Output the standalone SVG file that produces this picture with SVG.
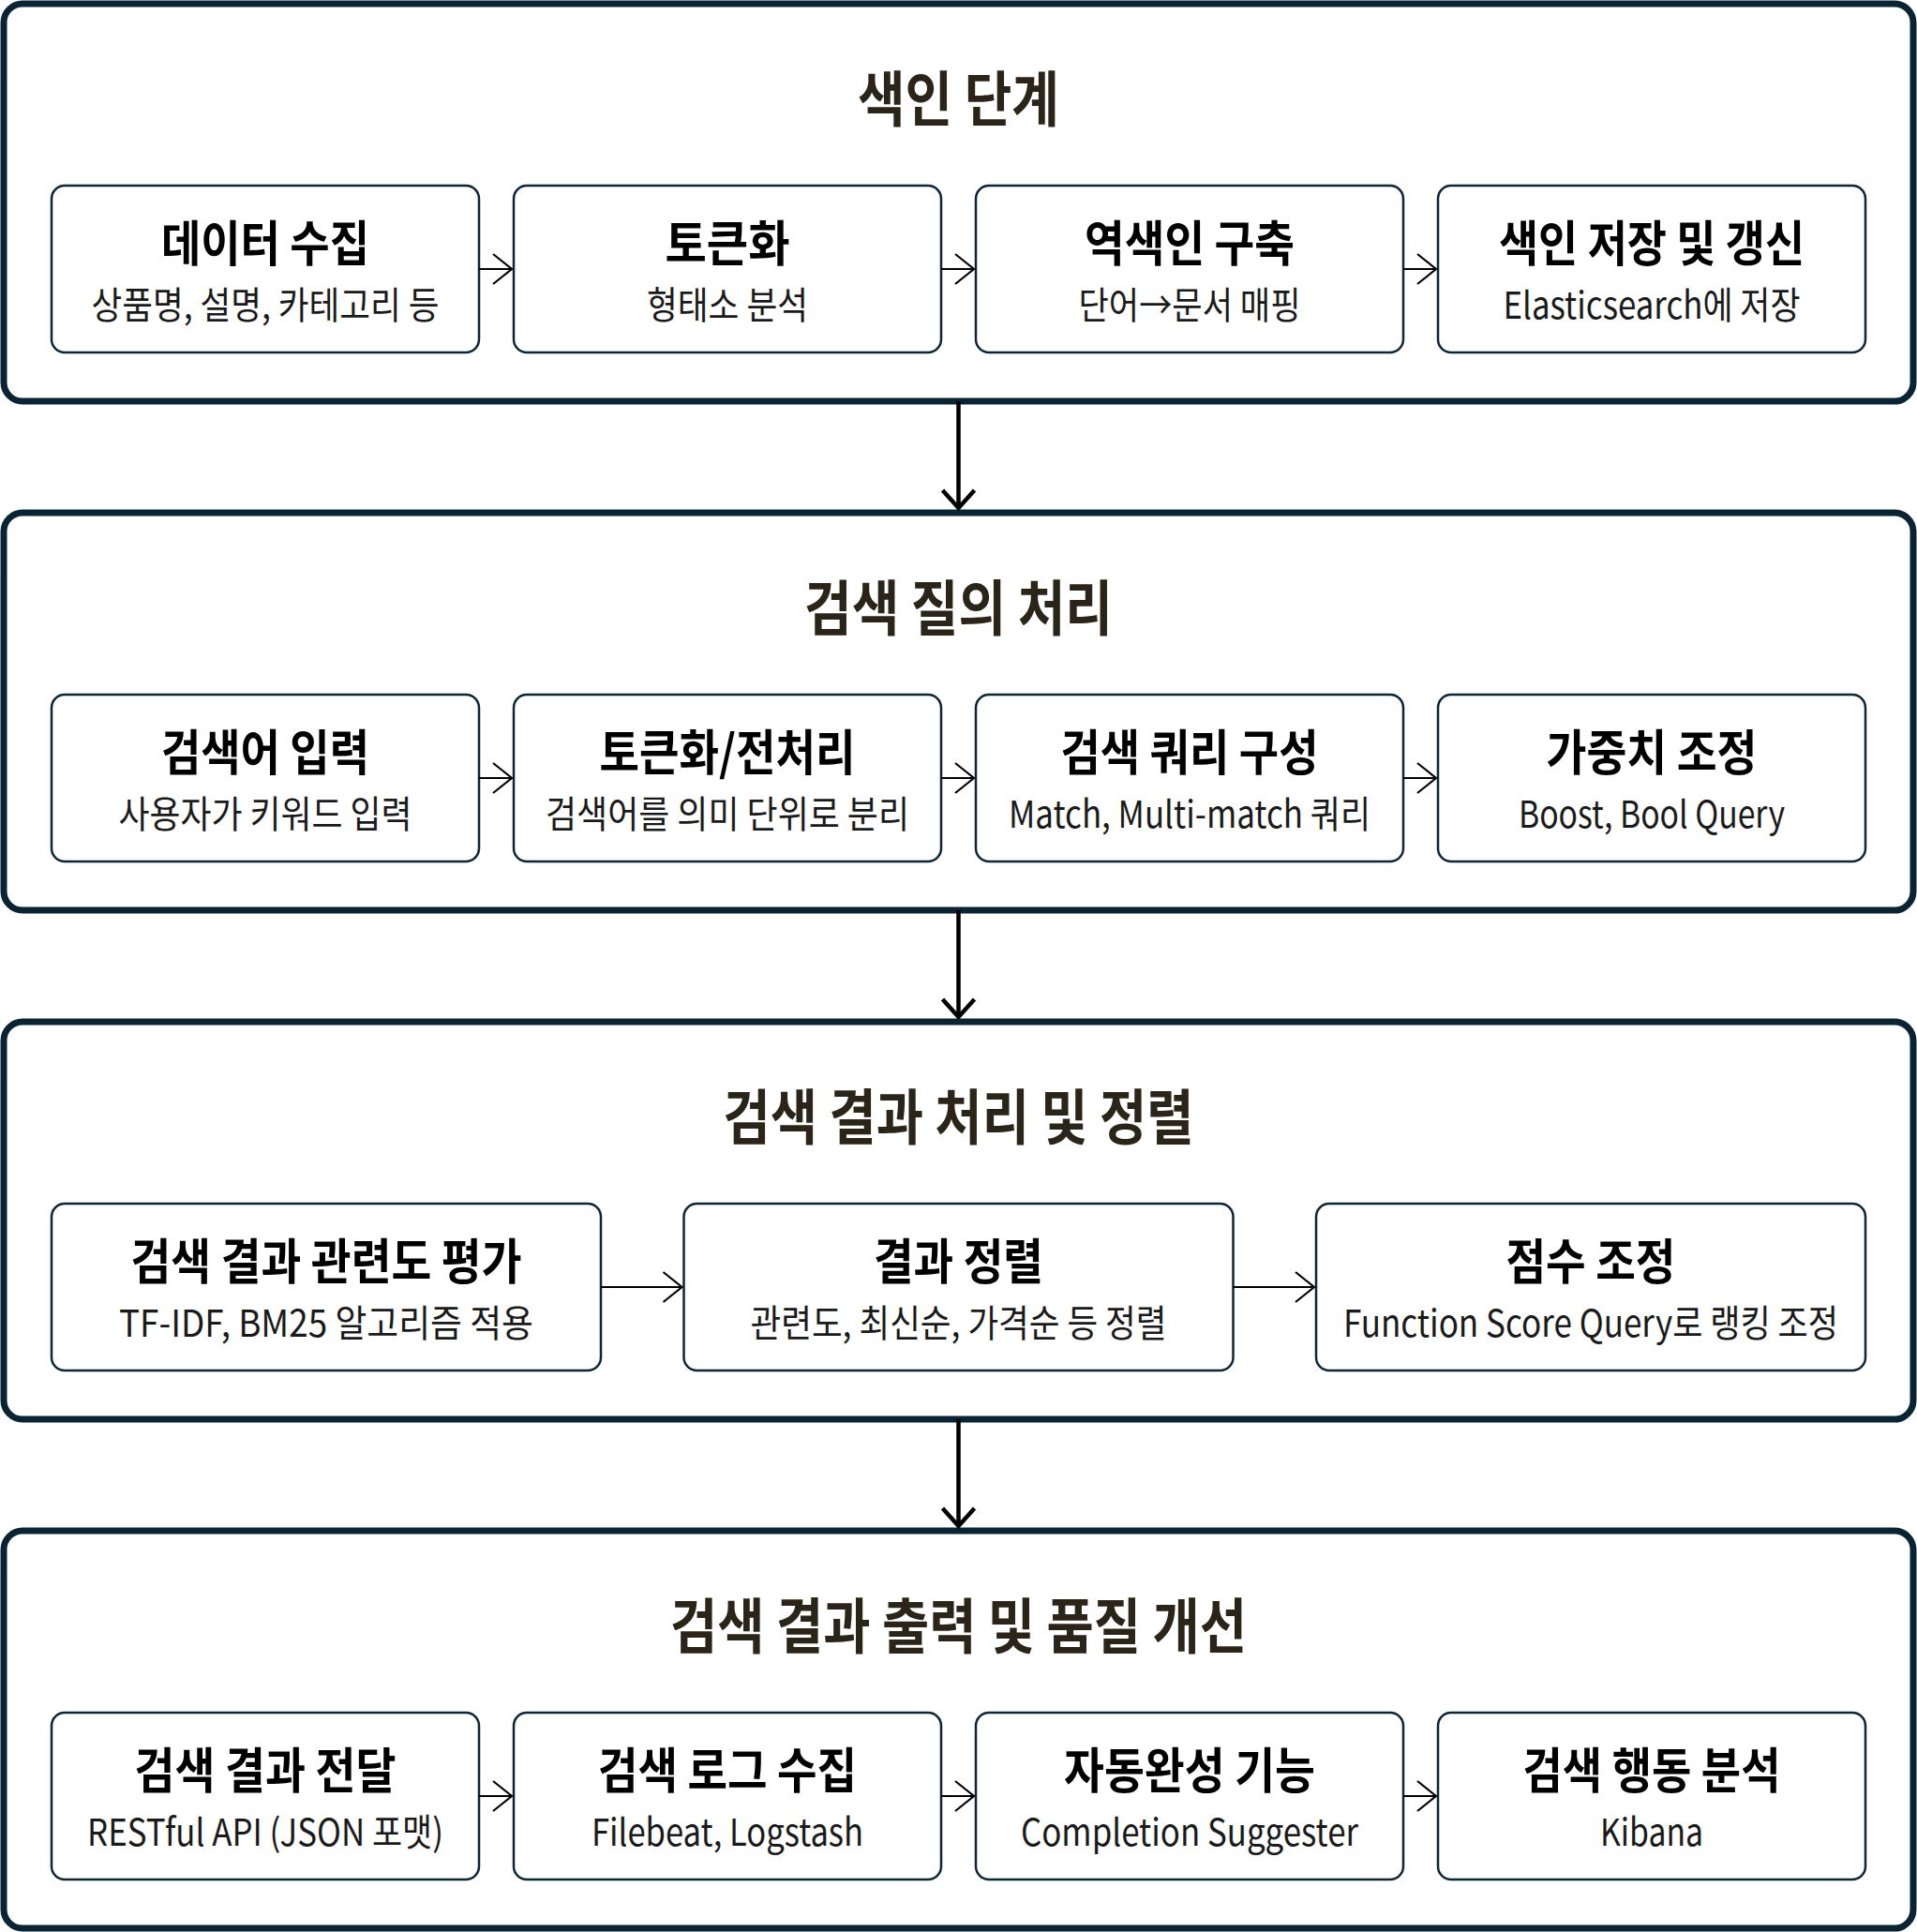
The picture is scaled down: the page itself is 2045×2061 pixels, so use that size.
<svg xmlns="http://www.w3.org/2000/svg" width="2045" height="2061" viewBox="0 0 2045 2061">
<defs>
<style>
.stage{fill:#ffffff;stroke:#0a2433;stroke-width:7}
.node rect{fill:#ffffff;stroke:#0d2636;stroke-width:2.5}
.st{font-family:"Noto Sans CJK KR","Noto Sans",sans-serif;font-weight:700;font-size:64px;fill:#2a2419;text-anchor:middle}
.nt{font-family:"Noto Sans CJK KR","Noto Sans",sans-serif;font-weight:700;font-size:52px;fill:#000000;text-anchor:middle}
.ns{font-family:"Noto Sans CJK KR","Noto Sans",sans-serif;font-weight:400;font-size:40px;fill:#1a1a1a;text-anchor:middle}
.h{stroke:#000;stroke-width:2.2;fill:none}
.v{stroke:#000;stroke-width:4.5;fill:none}
</style>
<marker id="ah" markerUnits="userSpaceOnUse" viewBox="-24 -20 28 40" refX="0" refY="0" markerWidth="28" markerHeight="40" orient="auto">
<path d="M-20,-16 L0,0 L-20,16" fill="none" stroke="#000" stroke-width="2.2"/>
</marker>
<marker id="av" markerUnits="userSpaceOnUse" viewBox="-26 -22 30 44" refX="0" refY="0" markerWidth="30" markerHeight="44" orient="auto">
<path d="M-19,-17 L0,0 L-19,17" fill="none" stroke="#000" stroke-width="4.5"/>
</marker>
</defs>
<rect width="2045" height="2061" fill="#ffffff"/>

<g id="stage1">
<rect class="stage" x="4" y="4" width="2037" height="424" rx="20"/>
<text class="st" x="1022.5" y="129" textLength="215" lengthAdjust="spacingAndGlyphs">색인 단계</text>
</g>
<g id="stage2">
<rect class="stage" x="4" y="547" width="2037" height="424" rx="20"/>
<text class="st" x="1022.5" y="672" textLength="329" lengthAdjust="spacingAndGlyphs">검색 질의 처리</text>
</g>
<g id="stage3">
<rect class="stage" x="4" y="1090" width="2037" height="424" rx="20"/>
<text class="st" x="1022.5" y="1215" textLength="502" lengthAdjust="spacingAndGlyphs">검색 결과 처리 및 정렬</text>
</g>
<g id="stage4">
<rect class="stage" x="4" y="1633" width="2037" height="424" rx="20"/>
<text class="st" x="1022.5" y="1758" textLength="615" lengthAdjust="spacingAndGlyphs">검색 결과 출력 및 품질 개선</text>
</g>

<g id="n1" class="node">
<rect x="55" y="198" width="456" height="178" rx="14"/>
<text class="nt" x="283" y="279" textLength="222" lengthAdjust="spacingAndGlyphs">데이터 수집</text>
<text class="ns" x="283" y="340" textLength="371" lengthAdjust="spacingAndGlyphs">상품명, 설명, 카테고리 등</text>
</g>
<g id="n2" class="node">
<rect x="548" y="198" width="456" height="178" rx="14"/>
<text class="nt" x="776" y="279" textLength="133" lengthAdjust="spacingAndGlyphs">토큰화</text>
<text class="ns" x="776" y="340" textLength="172" lengthAdjust="spacingAndGlyphs">형태소 분석</text>
</g>
<g id="n3" class="node">
<rect x="1041" y="198" width="456" height="178" rx="14"/>
<text class="nt" x="1269" y="279" textLength="224" lengthAdjust="spacingAndGlyphs">역색인 구축</text>
<text class="ns" x="1269" y="340" textLength="237" lengthAdjust="spacingAndGlyphs">단어→문서 매핑</text>
</g>
<g id="n4" class="node">
<rect x="1534" y="198" width="456" height="178" rx="14"/>
<text class="nt" x="1762" y="279" textLength="326" lengthAdjust="spacingAndGlyphs">색인 저장 및 갱신</text>
<text class="ns" x="1762" y="340" textLength="317" lengthAdjust="spacingAndGlyphs">Elasticsearch에 저장</text>
</g>

<g id="n5" class="node">
<rect x="55" y="741" width="456" height="178" rx="14"/>
<text class="nt" x="283" y="822" textLength="222" lengthAdjust="spacingAndGlyphs">검색어 입력</text>
<text class="ns" x="283" y="883" textLength="313" lengthAdjust="spacingAndGlyphs">사용자가 키워드 입력</text>
</g>
<g id="n6" class="node">
<rect x="548" y="741" width="456" height="178" rx="14"/>
<text class="nt" x="776" y="822" textLength="273" lengthAdjust="spacingAndGlyphs">토큰화/전처리</text>
<text class="ns" x="776" y="883" textLength="388" lengthAdjust="spacingAndGlyphs">검색어를 의미 단위로 분리</text>
</g>
<g id="n7" class="node">
<rect x="1041" y="741" width="456" height="178" rx="14"/>
<text class="nt" x="1269" y="822" textLength="275" lengthAdjust="spacingAndGlyphs">검색 쿼리 구성</text>
<text class="ns" x="1269" y="883" textLength="386" lengthAdjust="spacingAndGlyphs">Match, Multi-match 쿼리</text>
</g>
<g id="n8" class="node">
<rect x="1534" y="741" width="456" height="178" rx="14"/>
<text class="nt" x="1762" y="822" textLength="225" lengthAdjust="spacingAndGlyphs">가중치 조정</text>
<text class="ns" x="1762" y="883" textLength="284" lengthAdjust="spacingAndGlyphs">Boost, Bool Query</text>
</g>

<g id="n9" class="node">
<rect x="55" y="1284" width="586" height="178" rx="14"/>
<text class="nt" x="348" y="1365" textLength="417" lengthAdjust="spacingAndGlyphs">검색 결과 관련도 평가</text>
<text class="ns" x="348" y="1426" textLength="442" lengthAdjust="spacingAndGlyphs">TF-IDF, BM25 알고리즘 적용</text>
</g>
<g id="n10" class="node">
<rect x="729.5" y="1284" width="586" height="178" rx="14"/>
<text class="nt" x="1022.5" y="1365" textLength="181" lengthAdjust="spacingAndGlyphs">결과 정렬</text>
<text class="ns" x="1022.5" y="1426" textLength="444" lengthAdjust="spacingAndGlyphs">관련도, 최신순, 가격순 등 정렬</text>
</g>
<g id="n11" class="node">
<rect x="1404" y="1284" width="586" height="178" rx="14"/>
<text class="nt" x="1697" y="1365" textLength="181" lengthAdjust="spacingAndGlyphs">점수 조정</text>
<text class="ns" x="1697" y="1426" textLength="528" lengthAdjust="spacingAndGlyphs">Function Score Query로 랭킹 조정</text>
</g>

<g id="n12" class="node">
<rect x="55" y="1827" width="456" height="178" rx="14"/>
<text class="nt" x="283" y="1908" textLength="279" lengthAdjust="spacingAndGlyphs">검색 결과 전달</text>
<text class="ns" x="283" y="1969" textLength="380" lengthAdjust="spacingAndGlyphs">RESTful API (JSON 포맷)</text>
</g>
<g id="n13" class="node">
<rect x="548" y="1827" width="456" height="178" rx="14"/>
<text class="nt" x="776" y="1908" textLength="276" lengthAdjust="spacingAndGlyphs">검색 로그 수집</text>
<text class="ns" x="776" y="1969" textLength="290" lengthAdjust="spacingAndGlyphs">Filebeat, Logstash</text>
</g>
<g id="n14" class="node">
<rect x="1041" y="1827" width="456" height="178" rx="14"/>
<text class="nt" x="1269" y="1908" textLength="268" lengthAdjust="spacingAndGlyphs">자동완성 기능</text>
<text class="ns" x="1269" y="1969" textLength="360" lengthAdjust="spacingAndGlyphs">Completion Suggester</text>
</g>
<g id="n15" class="node">
<rect x="1534" y="1827" width="456" height="178" rx="14"/>
<text class="nt" x="1762" y="1908" textLength="275" lengthAdjust="spacingAndGlyphs">검색 행동 분석</text>
<text class="ns" x="1762" y="1969" textLength="110" lengthAdjust="spacingAndGlyphs">Kibana</text>
</g>

<g id="connectors">
<path class="h" marker-end="url(#ah)" d="M511,287 H546"/>
<path class="h" marker-end="url(#ah)" d="M1004,287 H1039"/>
<path class="h" marker-end="url(#ah)" d="M1497,287 H1532"/>
<path class="h" marker-end="url(#ah)" d="M511,830 H546"/>
<path class="h" marker-end="url(#ah)" d="M1004,830 H1039"/>
<path class="h" marker-end="url(#ah)" d="M1497,830 H1532"/>
<path class="h" marker-end="url(#ah)" d="M641,1373 H727.5"/>
<path class="h" marker-end="url(#ah)" d="M1315.5,1373 H1402"/>
<path class="h" marker-end="url(#ah)" d="M511,1916 H546"/>
<path class="h" marker-end="url(#ah)" d="M1004,1916 H1039"/>
<path class="h" marker-end="url(#ah)" d="M1497,1916 H1532"/>
<path class="v" marker-end="url(#av)" d="M1022.5,428 V542"/>
<path class="v" marker-end="url(#av)" d="M1022.5,971 V1085"/>
<path class="v" marker-end="url(#av)" d="M1022.5,1514 V1628"/>
</g>
</svg>
